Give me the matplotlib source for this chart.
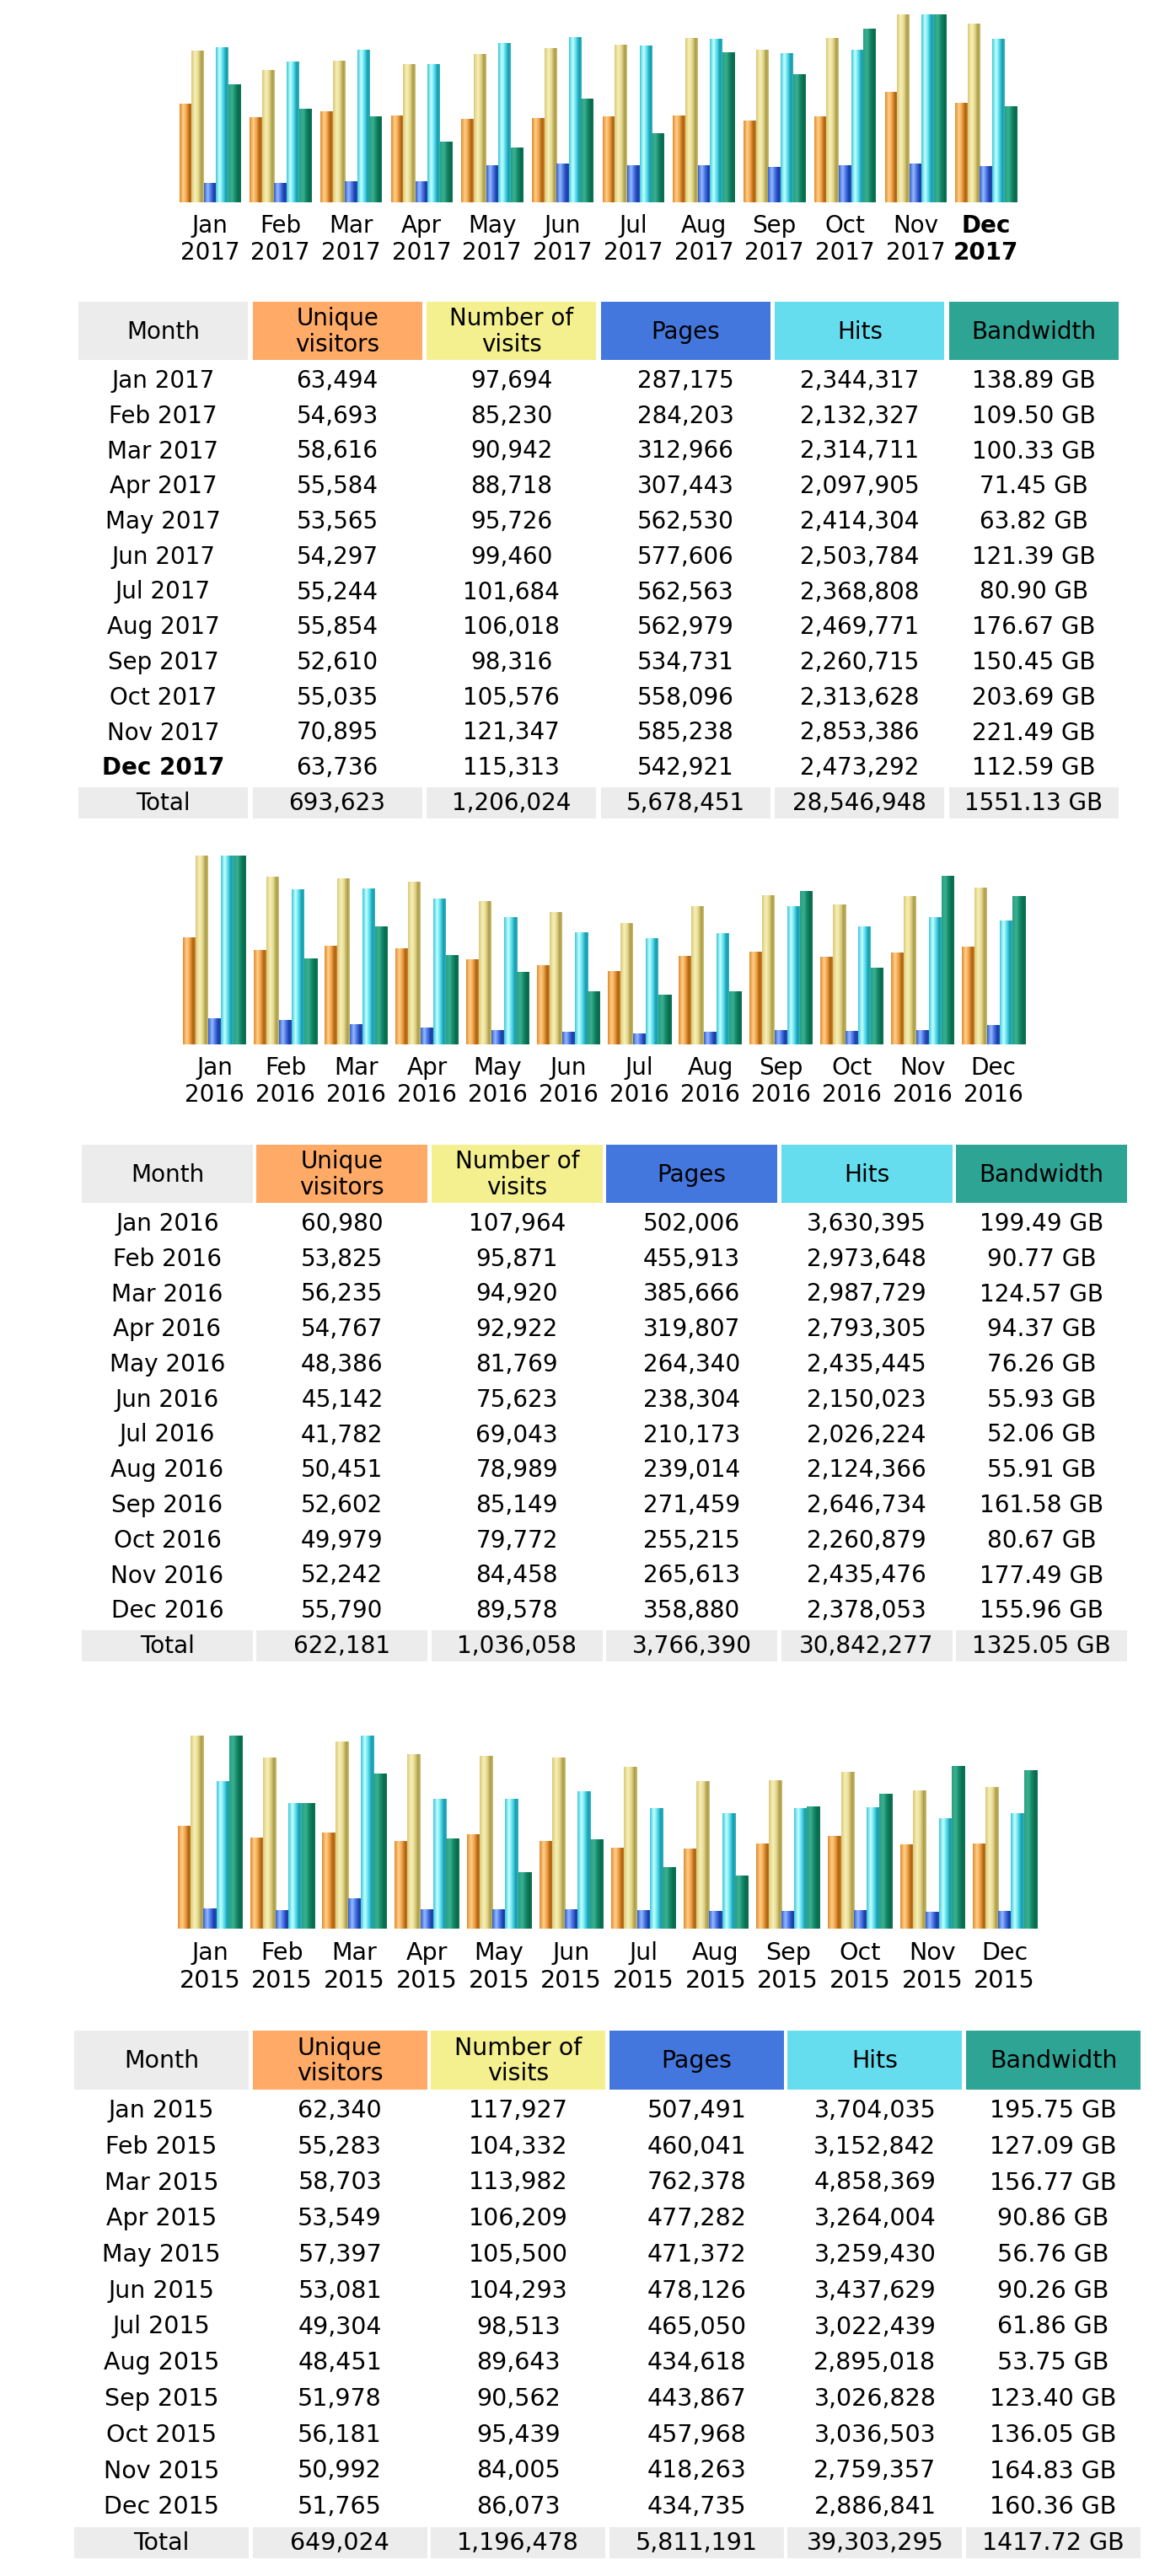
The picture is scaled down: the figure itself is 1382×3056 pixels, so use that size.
import numpy as np
import matplotlib
matplotlib.use("Agg")
import matplotlib.pyplot as plt
from matplotlib.colors import LinearSegmentedColormap
from matplotlib.patches import Rectangle

plt.rcParams['font.family'] = ['DejaVu Sans']

# ---------------- data ----------------
months = ['Jan', 'Feb', 'Mar', 'Apr', 'May', 'Jun', 'Jul', 'Aug', 'Sep', 'Oct', 'Nov', 'Dec']
years = ['2017', '2016', '2015']
headers = ['Month', 'Unique\nvisitors', 'Number of\nvisits', 'Pages', 'Hits', 'Bandwidth']

visitors_2017 = [63494, 54693, 58616, 55584, 53565, 54297, 55244, 55854, 52610, 55035, 70895, 63736]
visits_2017 = [97694, 85230, 90942, 88718, 95726, 99460, 101684, 106018, 98316, 105576, 121347, 115313]
pages_2017 = [287175, 284203, 312966, 307443, 562530, 577606, 562563, 562979, 534731, 558096, 585238, 542921]
hits_2017 = [2344317, 2132327, 2314711, 2097905, 2414304, 2503784, 2368808, 2469771, 2260715, 2313628, 2853386, 2473292]
bandwidth_2017 = [138.89, 109.50, 100.33, 71.45, 63.82, 121.39, 80.90, 176.67, 150.45, 203.69, 221.49, 112.59]
totals_2017 = [693623, 1206024, 5678451, 28546948, 1551.13]

visitors_2016 = [60980, 53825, 56235, 54767, 48386, 45142, 41782, 50451, 52602, 49979, 52242, 55790]
visits_2016 = [107964, 95871, 94920, 92922, 81769, 75623, 69043, 78989, 85149, 79772, 84458, 89578]
pages_2016 = [502006, 455913, 385666, 319807, 264340, 238304, 210173, 239014, 271459, 255215, 265613, 358880]
hits_2016 = [3630395, 2973648, 2987729, 2793305, 2435445, 2150023, 2026224, 2124366, 2646734, 2260879, 2435476, 2378053]
bandwidth_2016 = [199.49, 90.77, 124.57, 94.37, 76.26, 55.93, 52.06, 55.91, 161.58, 80.67, 177.49, 155.96]
totals_2016 = [622181, 1036058, 3766390, 30842277, 1325.05]

visitors_2015 = [62340, 55283, 58703, 53549, 57397, 53081, 49304, 48451, 51978, 56181, 50992, 51765]
visits_2015 = [117927, 104332, 113982, 106209, 105500, 104293, 98513, 89643, 90562, 95439, 84005, 86073]
pages_2015 = [507491, 460041, 762378, 477282, 471372, 478126, 465050, 434618, 443867, 457968, 418263, 434735]
hits_2015 = [3704035, 3152842, 4858369, 3264004, 3259430, 3437629, 3022439, 2895018, 3026828, 3036503, 2759357, 2886841]
bandwidth_2015 = [195.75, 127.09, 156.77, 90.86, 56.76, 90.26, 61.86, 53.75, 123.40, 136.05, 164.83, 160.36]
totals_2015 = [649024, 1196478, 5811191, 39303295, 1417.72]

data = {
    '2017': (visitors_2017, visits_2017, pages_2017, hits_2017, bandwidth_2017, totals_2017),
    '2016': (visitors_2016, visits_2016, pages_2016, hits_2016, bandwidth_2016, totals_2016),
    '2015': (visitors_2015, visits_2015, pages_2015, hits_2015, bandwidth_2015, totals_2015),
}

# ---------------- styles ----------------
W, H = 1382, 3056
header_colors = ['#ECECEC', '#FFAA66', '#F4F090', '#4477DD', '#66DDEE', '#2EA495']
total_bg = '#ECECEC'

bar_profiles = [
    ['#E08A30', '#FFD088', '#F2A24A', '#A8600E', '#D88428'],   # visitors
    ['#D8C878', '#F8F0B8', '#E6DA90', '#A89A48', '#D0C070'],   # visits
    ['#3060D0', '#98B8FF', '#4A78E8', '#1A3AA0', '#2850C0'],   # pages
    ['#38C8D8', '#C8FFFF', '#58E0F0', '#1898A8', '#30B8C8'],   # hits
    ['#28A080', '#3AB090', '#148A6A', '#0A6A4C', '#0C7656'],   # bandwidth
]
cmaps = [LinearSegmentedColormap.from_list('c%d' % i, list(zip([0, 0.3, 0.55, 0.82, 1.0], p)))
         for i, p in enumerate(bar_profiles)]

sections = [
    dict(year='2017', chart_left=212.5, pitch=83.7, gw=73, base=240, top=17,
         tab_left=93, tab_pitch=206.6, cell_w=201, head_top=358, head_bot=427,
         row0=452, row_step=41.75, fs=20.0, bold_last=True),
    dict(year='2016', chart_left=217, pitch=84.0, gw=75, base=1239, top=1015,
         tab_left=97, tab_pitch=207.4, cell_w=203, head_top=1358, head_bot=1427,
         row0=1452, row_step=41.75, fs=20.1, bold_last=False),
    dict(year='2015', chart_left=211, pitch=85.7, gw=76, base=2288, top=2059,
         tab_left=88, tab_pitch=211.6, cell_w=207, head_top=2409, head_bot=2479,
         row0=2504, row_step=42.75, fs=20.5, bold_last=False),
]

fig = plt.figure(figsize=(W / 100, H / 100), dpi=100)
fig.patch.set_facecolor('white')
bg = fig.add_axes([0, 0, 1, 1])
bg.set_xlim(0, W)
bg.set_ylim(H, 0)
bg.axis('off')


def fmt_int(v):
    return '{:,}'.format(v)


def fmt_gb(v):
    return '{:.2f} GB'.format(v)


for sec in sections:
    yr = sec['year']
    vis, vst, pag, hit, bwd, tot = data[yr]
    vis = np.array(vis, float); vst = np.array(vst, float)
    pag = np.array(pag, float); hit = np.array(hit, float); bwd = np.array(bwd, float)
    # AWStats scaling: visitors & visits share max visits, pages & hits share max hits
    mv = vst.max(); mh = hit.max(); mb = bwd.max()
    series = [vis / mv, vst / mv, pag / mh, hit / mh, bwd / mb]

    pitch = sec['pitch']
    c0 = sec['chart_left'] + sec['gw'] / 2
    ax_left = c0 - pitch / 2
    ax = fig.add_axes([ax_left / W, (H - sec['base']) / H, 12 * pitch / W, (sec['base'] - sec['top']) / H])
    ax.set_xlim(-0.5, 11.5)
    ax.set_ylim(0, 1)
    ax.axis('off')
    ax.patch.set_alpha(0)
    x = np.arange(12)
    bw = sec['gw'] / 5 / pitch
    grad = np.linspace(0, 1, 128).reshape(1, -1)
    for k, vals in enumerate(series):
        bars = ax.bar(x + (k - 2) * bw, vals, width=bw, color=bar_profiles[k][2], linewidth=0, zorder=1)
        for p in bars:
            x0, w_, h_ = p.get_x(), p.get_width(), p.get_height()
            ax.imshow(grad, extent=[x0, x0 + w_, 0, h_], aspect='auto', cmap=cmaps[k],
                      interpolation='bilinear', zorder=2)
    ax.set_xlim(-0.5, 11.5)
    ax.set_ylim(0, 1)
    s = sec['fs'] / 20.0
    for i, m in enumerate(months):
        bold = sec['bold_last'] and i == 11
        ax.annotate(m, xy=(i, 0), xytext=(0, -28 * s), textcoords='offset pixels',
                    ha='center', va='center', fontsize=sec['fs'],
                    fontweight='bold' if bold else 'normal', annotation_clip=False)
        ax.annotate(yr, xy=(i, 0), xytext=(0, -60 * s), textcoords='offset pixels',
                    ha='center', va='center', fontsize=sec['fs'],
                    fontweight='bold' if bold else 'normal', annotation_clip=False)

    # ---------------- table ----------------
    tl, tp, cw = sec['tab_left'], sec['tab_pitch'], sec['cell_w']
    ht, hb = sec['head_top'], sec['head_bot']
    for j, (hd, col) in enumerate(zip(headers, header_colors)):
        bg.add_patch(Rectangle((tl + j * tp, ht), cw, hb - ht, facecolor=col, edgecolor='none'))
        bg.text(tl + j * tp + cw / 2, (ht + hb) / 2 + 1, hd, ha='center', va='center',
                fontsize=sec['fs'], linespacing=1.12, color='black')
    cols = [vis, vst, pag, hit]
    for i in range(12):
        yc = sec['row0'] + i * sec['row_step']
        bold = sec['bold_last'] and i == 11
        cells = ['%s %s' % (months[i], yr)] + [fmt_int(int(c[i])) for c in cols] + [fmt_gb(bwd[i])]
        for j, t in enumerate(cells):
            bg.text(tl + j * tp + cw / 2, yc, t, ha='center', va='center', fontsize=sec['fs'],
                    fontweight='bold' if (bold and j == 0) else 'normal', color='black')
    yc = sec['row0'] + 12 * sec['row_step']
    cells = ['Total'] + [fmt_int(int(v)) for v in tot[:4]] + [fmt_gb(tot[4])]
    for j, t in enumerate(cells):
        bg.add_patch(Rectangle((tl + j * tp, yc - 19 * s), cw, 37 * s, facecolor=total_bg, edgecolor='none'))
        bg.text(tl + j * tp + cw / 2, yc, t, ha='center', va='center', fontsize=sec['fs'], color='black')

fig.savefig('out.png', dpi=100, facecolor='white')
